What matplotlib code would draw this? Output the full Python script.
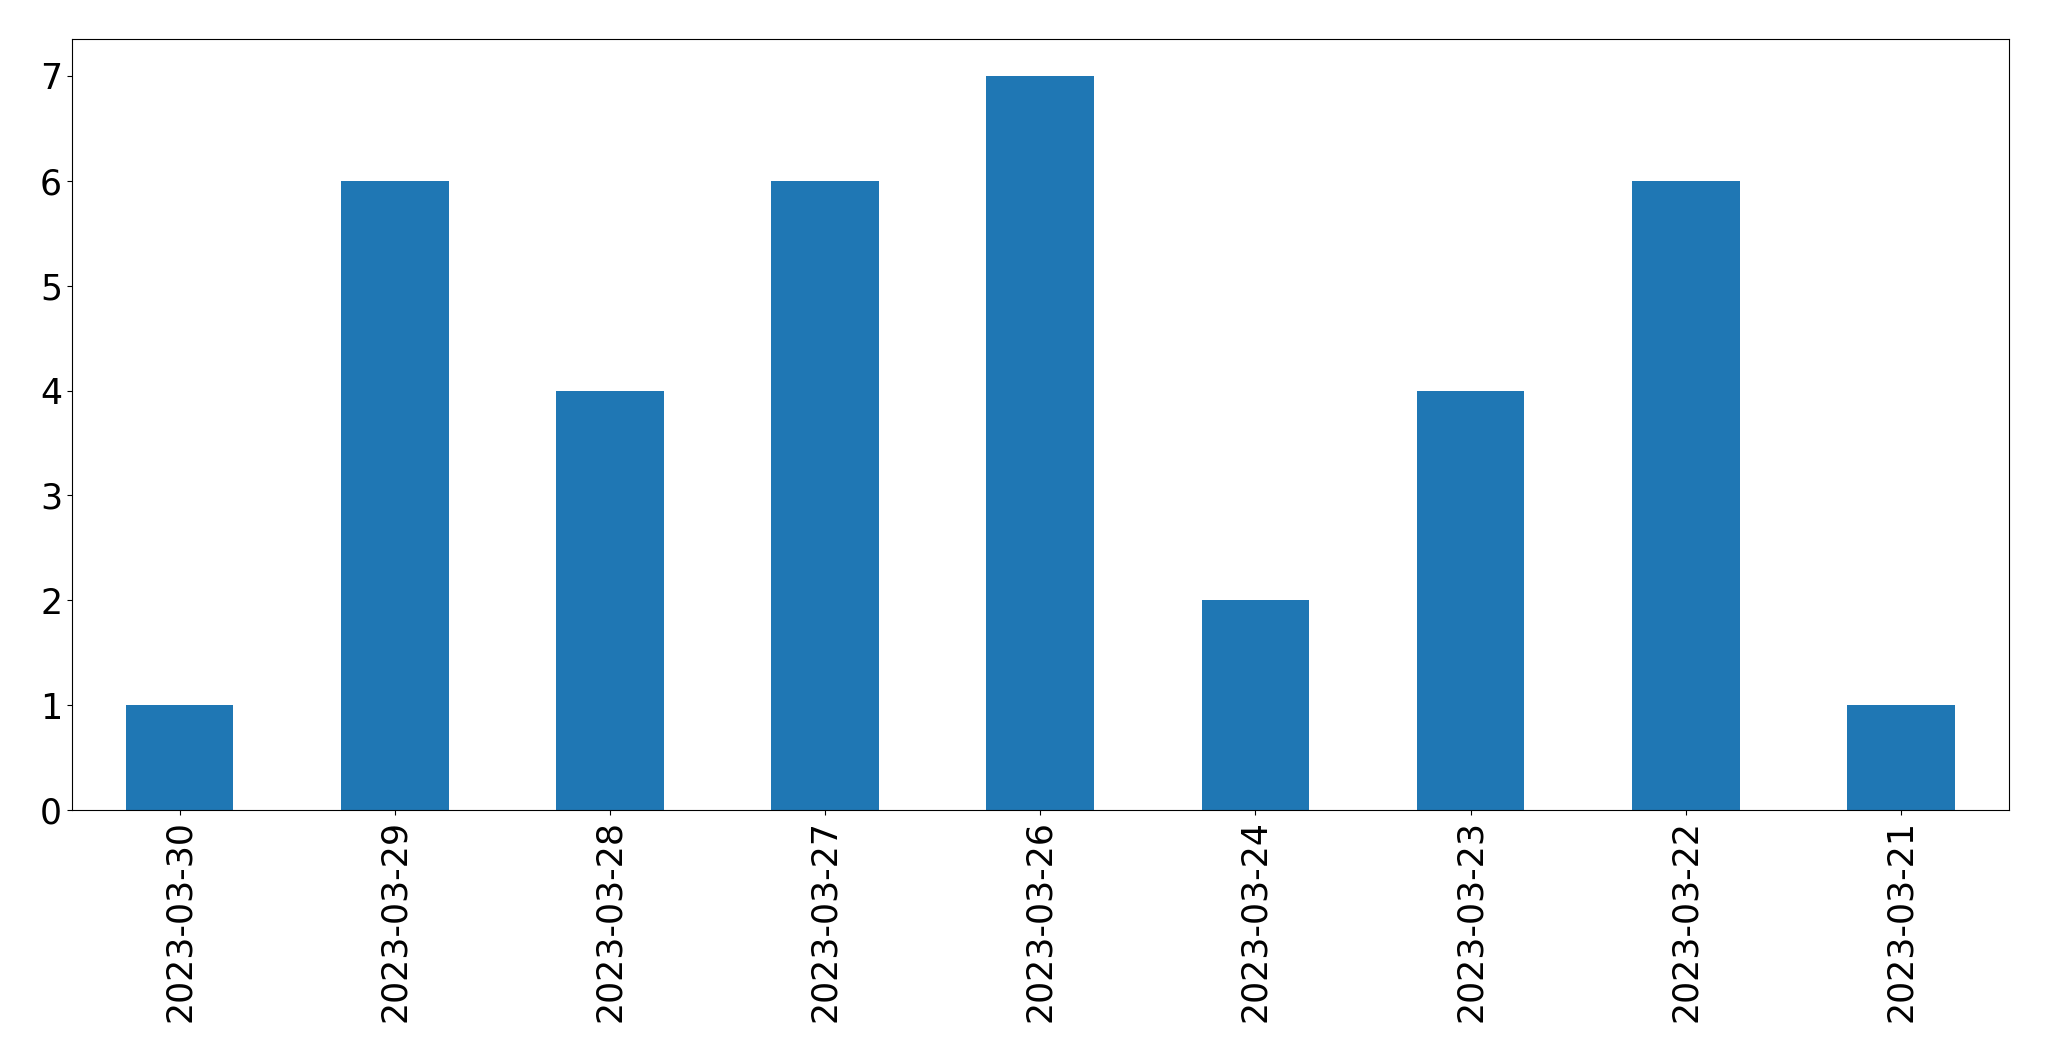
import matplotlib
matplotlib.use("Agg")
import matplotlib.pyplot as plt

dates = ["2023-03-30", "2023-03-29", "2023-03-28", "2023-03-27", "2023-03-26",
         "2023-03-24", "2023-03-23", "2023-03-22", "2023-03-21"]
counts = [1, 6, 4, 6, 7, 2, 4, 6, 1]

fig = plt.figure(figsize=(20.49, 10.61), dpi=100)
ax = fig.add_axes([0.0351, 0.2365, 0.9452, 0.7265])
x = list(range(len(dates)))
ax.bar(x, counts, width=0.5, color="#1f77b4")
ax.set_xlim(-0.5, len(dates) - 0.5)
ax.set_ylim(0, 7.35)
ax.set_xticks(x)
ax.set_xticklabels(dates, rotation=90)
ax.tick_params(axis="both", labelsize=25)
fig.savefig("out.png", dpi=100)
